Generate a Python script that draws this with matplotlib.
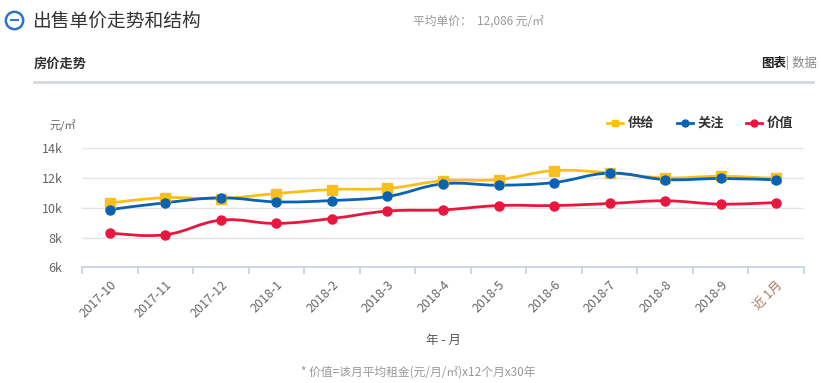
import numpy as np
import matplotlib
matplotlib.use("Agg")
import matplotlib.pyplot as plt
from matplotlib.path import Path
from matplotlib.patches import PathPatch

plt.rcParams['font.family'] = ['Noto Sans CJK SC', 'DejaVu Sans']

# --- data ---
months = ['2017-10', '2017-11', '2017-12', '2018-1', '2018-2', '2018-3', '2018-4',
          '2018-5', '2018-6', '2018-7', '2018-8', '2018-9', '近 1月']
supply = [10330, 10680, 10620, 10960, 11230, 11300, 11820,
          11900, 12500, 12350, 12010, 12120, 11970]
attention = [9880, 10340, 10670, 10400, 10490, 10760, 11610,
             11520, 11700, 12330, 11900, 11970, 11880]
value = [8290, 8190, 9170, 8950, 9280, 9780, 9860,
         10150, 10150, 10290, 10470, 10250, 10350]
series_names = ['供给', '关注', '价值']
yticks = [6000, 8000, 10000, 12000, 14000]
ytick_labels = ['6k', '8k', '10k', '12k', '14k']

YELLOW = '#fbbf1c'
BLUE = '#0a62b4'
RED = '#e8173e'


def smooth_path(xs, ys, k=0.2):
    """Bezier path through the points (echarts-like smooth line)."""
    pts = np.column_stack([xs, ys]).astype(float)
    n = len(pts)
    verts = [pts[0]]
    codes = [Path.MOVETO]
    for i in range(n - 1):
        p0 = pts[max(i - 1, 0)]
        p1 = pts[i]
        p2 = pts[i + 1]
        p3 = pts[min(i + 2, n - 1)]
        c1 = p1 + (p2 - p0) * k
        c2 = p2 - (p3 - p1) * k
        verts += [c1, c2, p2]
        codes += [Path.CURVE4] * 3
    return Path(verts, codes)


fig = plt.figure(figsize=(8.21, 3.83), dpi=100)
W, H = 821, 383


def fx(px):
    return px / W


def fy(py):
    return 1 - py / H


# --- header ---
fig.lines.append(plt.Line2D([fx(14)], [fy(20)], transform=fig.transFigure,
                            marker='o', markersize=12.5, markerfacecolor='none',
                            markeredgecolor='#2b74c8', markeredgewidth=1.8))
fig.lines.append(plt.Line2D([fx(10.5), fx(17.5)], [fy(20), fy(20)],
                            transform=fig.transFigure, color='#2b74c8', lw=1.4))
fig.text(fx(32), fy(21), '出售单价走势和结构', fontsize=13.5, color='#333333',
         ha='left', va='center')
fig.text(fx(413), fy(21), '平均单价：  12,086 元/㎡', fontsize=8.5, color='#999999',
         ha='left', va='center')
fig.text(fx(34), fy(64), '房价走势', fontsize=9.5, color='#333333', weight='bold',
         ha='left', va='center')
fig.text(fx(786), fy(63), '图表', fontsize=9, color='#222222', weight='bold',
         ha='right', va='center')
fig.text(fx(786), fy(63), '| 数据', fontsize=9, color='#888888',
         ha='left', va='center')
fig.lines.append(plt.Line2D([fx(34), fx(813)], [fy(82), fy(82)],
                            transform=fig.transFigure, color='#d3d7e2', lw=2))

# --- chart ---
ax = fig.add_axes([fx(82), fy(267.3), fx(804) - fx(82), fy(148.3) - fy(267.3)])
n = len(months)
x = np.arange(n)
ax.set_xlim(-0.5, n - 0.5)
ax.set_ylim(6000, 14000)

for s in ['top', 'right', 'left']:
    ax.spines[s].set_visible(False)
ax.spines['bottom'].set_color('#c5d0e0')
ax.spines['bottom'].set_linewidth(1.2)

ax.set_yticks(yticks)
ax.set_yticklabels(ytick_labels)
ax.tick_params(axis='y', length=0, pad=14, labelsize=9, labelcolor='#666666')
ax.yaxis.grid(True, color='#e5e5e5', linewidth=1)
ax.set_axisbelow(True)

ax.set_xticks(x)
ax.set_xticklabels(months, rotation=45, ha='right', va='top',
                   rotation_mode='anchor')
ax.set_xticks(np.arange(n + 1) - 0.5, minor=True)
ax.tick_params(axis='x', which='major', length=0, pad=8, labelsize=9,
               labelcolor='#666666')
ax.tick_params(axis='x', which='minor', length=5, color='#c5d0e0', width=1.2)
ax.get_xticklabels()[-1].set_color('#a0785a')

for ys, color, marker in [(supply, YELLOW, 's'), (attention, BLUE, 'o'), (value, RED, 'o')]:
    ax.add_patch(PathPatch(smooth_path(x, ys), facecolor='none', edgecolor=color,
                           linewidth=2, zorder=3))
    ax.plot(x, ys, linestyle='none', marker=marker, color=color,
            markersize=6.5, zorder=4)

# legend drawn by hand to match the layout
legend_x = [607, 677, 746]
for lx, name, color, marker in zip(legend_x, series_names, [YELLOW, BLUE, RED], ['s', 'o', 'o']):
    fig.lines.append(plt.Line2D([fx(lx), fx(lx + 16)], [fy(123), fy(123)],
                                transform=fig.transFigure, color=color, lw=2))
    fig.lines.append(plt.Line2D([fx(lx + 8)], [fy(123)], transform=fig.transFigure,
                                marker=marker, color=color, markersize=5))
    fig.text(fx(lx + 21), fy(123), name, fontsize=9.5, weight='bold',
             color='#333333', ha='left', va='center')

fig.text(fx(49), fy(126), '元/㎡', fontsize=8, color='#666666', ha='left', va='center')
fig.text(fx(443), fy(340), '年 - 月', fontsize=9, color='#555555', ha='center', va='center')
fig.text(fx(418), fy(372), '* 价值=该月平均租金(元/月/㎡)x12个月x30年', fontsize=8.5,
         color='#999999', ha='center', va='center')

fig.savefig('out.png', dpi=100)
